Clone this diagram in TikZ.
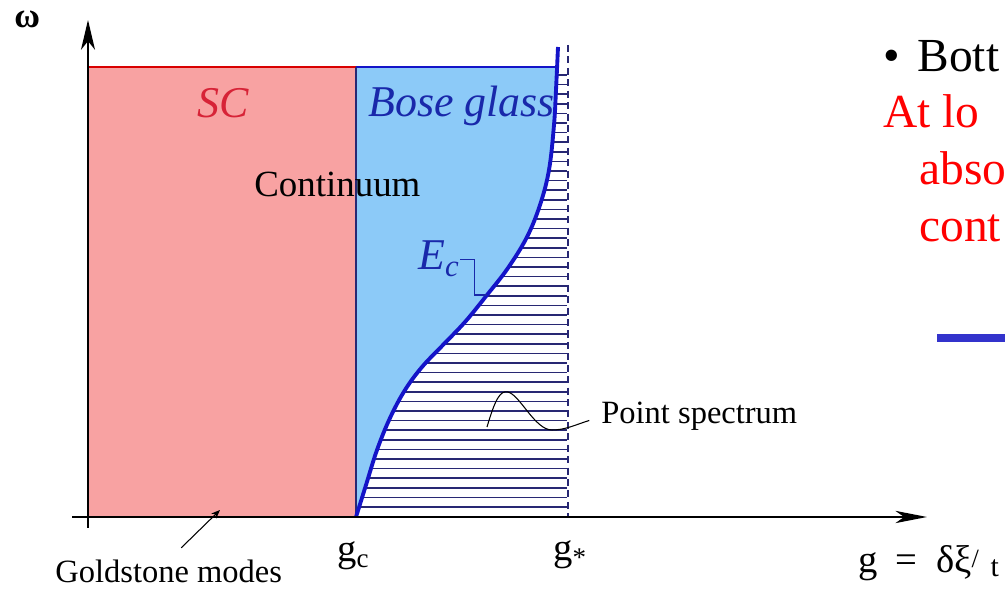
\documentclass[tikz,border=0pt]{standalone}
\usepackage{fontspec}
\setmainfont{Liberation Serif}
\usetikzlibrary{calc,positioning,arrows.meta}
\definecolor{scpink}{RGB}{248,162,162}
\definecolor{bgblue}{RGB}{140,202,248}
\definecolor{hatchnavy}{RGB}{40,40,115}
\definecolor{curveblue}{RGB}{20,20,200}
\definecolor{scred}{RGB}{215,35,55}
\definecolor{bgtext}{RGB}{25,40,170}
\definecolor{slidered}{RGB}{255,0,0}
\definecolor{barblue}{RGB}{51,51,204}

\begin{document}
\begin{tikzpicture}[x=0.02cm, y=-0.02cm,
  lbl/.style={inner sep=0pt, font=\fontsize{18.5}{22}\selectfont},
  phase/.style={inner sep=0pt, font=\fontsize{25}{30}\selectfont\itshape},
  gval/.style={inner sep=0pt, font=\fontsize{22}{26}\selectfont},
  slide/.style={inner sep=0pt, anchor=base west, font=\fontsize{27}{32}\selectfont}]
  \clip (0,0) rectangle (1005,590);
  % phase regions
  \fill[scpink] (88,67) rectangle (356,517);
  \begin{scope}
    \clip (356,67) rectangle (600,517);
    \fill[bgblue] (356,0) -- plot[smooth, tension=0.6] coordinates {(356,517) (366,485) (377,450) (390,418) (405,390) (422,367) (442,346) (465,322) (487,295) (508,268) (527,237) (540,205) (549,170) (554,125) (556,90) (558,47)} -- (558,0) -- cycle;
  \end{scope}
  % point spectrum hatching
  \begin{scope}
    \clip plot[smooth, tension=0.6] coordinates {(356,517) (366,485) (377,450) (390,418) (405,390) (422,367) (442,346) (465,322) (487,295) (508,268) (527,237) (540,205) (549,170) (554,125) (556,90) (558,47)} -- (567,47) -- (567,517) -- cycle;
    \foreach \y in {75,84.6,...,515}
      \draw[hatchnavy, line width=0.9pt] (350,\y) -- (567,\y);
  \end{scope}
  \draw[hatchnavy, line width=0.7pt, dash pattern=on 4pt off 2.5pt] (568,45) -- (568,517);
  \draw[red!65!black, line width=0.8pt] (88,517) -- (88,67);
  \draw[red!85!black, line width=0.6pt] (88,67) -- (356,67);
  \draw[curveblue, line width=0.7pt] (356,67) -- (556,67);
  \draw[hatchnavy, line width=0.8pt] (356,67) -- (356,517);
  \draw[curveblue, line width=2.2pt] plot[smooth, tension=0.6] coordinates {(356,517) (366,485) (377,450) (390,418) (405,390) (422,367) (442,346) (465,322) (487,295) (508,268) (527,237) (540,205) (549,170) (554,125) (556,90) (558,47)};
  % axes
  \coordinate (yfoot) at (88,528);
  \coordinate (ytip) at (88,20);
  \coordinate (xfoot) at (72,517);
  \coordinate (xtip) at (927,517);
  \draw[line width=0.8pt, -{Stealth[length=17pt, width=8pt, inset=5pt]}] (yfoot) -- (ytip);
  \draw[line width=0.8pt, -{Stealth[length=18pt, width=7pt, inset=5pt]}] (xfoot) -- (xtip);
  \node[lbl, anchor=base west, font=\fontsize{20}{22}\selectfont\bfseries] (omega) at (14,28) {ω};
  % labels
  \node[phase, scred, anchor=base west] (sc) at (197,118) {SC};
  \node[phase, bgtext, anchor=base west] (bose) at (368,117) {Bose glass};
  \node[lbl, anchor=base west, font=\fontsize{21}{24}\selectfont] (cont) at (254,197) {Continuum};
  \node[phase, bgtext, anchor=base west] (ec) at (418,270) {E\textsubscript{c}};
  \coordinate (ecfoot) at (487,295);
  \draw[bgtext, line width=0.6pt] (ec.east) -- ++(14,0) |- (ecfoot);
  \node[lbl, anchor=base west] (pspec) at (601,424) {Point spectrum};
  \coordinate (pspot) at (487,427);
  \draw[line width=0.6pt, shorten >=7pt] (pspot) .. controls (495,400) and (500,390) .. (508,392)
    .. controls (520,395) and (535,430) .. (552,430)
    .. controls (565,430) and (575,425) .. (pspec.west);
  \node[lbl, anchor=base west] (gold) at (55,583) {Goldstone modes};
  \coordinate (goldtip) at (220,510);
  \draw[line width=0.6pt, shorten <=10pt, -{Stealth[length=5pt, width=4pt]}] (gold.north) -- (goldtip);
  \node[gval, anchor=base west] (gc) at (337,562) {g\textsubscript{c}};
  \node[gval, anchor=base west] (gstar) at (553,561) {g\textsubscript{*}};
  \node[gval, anchor=base west] (gdef) at (858,573)
    {g\hspace{0.45em}=\hspace{0.5em}δξ\raisebox{3pt}{\fontsize{15}{15}\selectfont/}\hspace{0.3em}\raisebox{-2pt}{\fontsize{17}{17}\selectfont t}};
  % slide text
  \node[slide] (bott) at (883,72) {\textbullet\hspace{10pt}Bott};
  \node[slide, slidered] (atlow) at (883,128) {At lo};
  \node[slide, slidered] (abso) at (919,185) {abso};
  \node[slide, slidered] (conti) at (919,242) {cont};
  \fill[barblue] (937,334) rectangle (1005,342);
\end{tikzpicture}
\end{document}
